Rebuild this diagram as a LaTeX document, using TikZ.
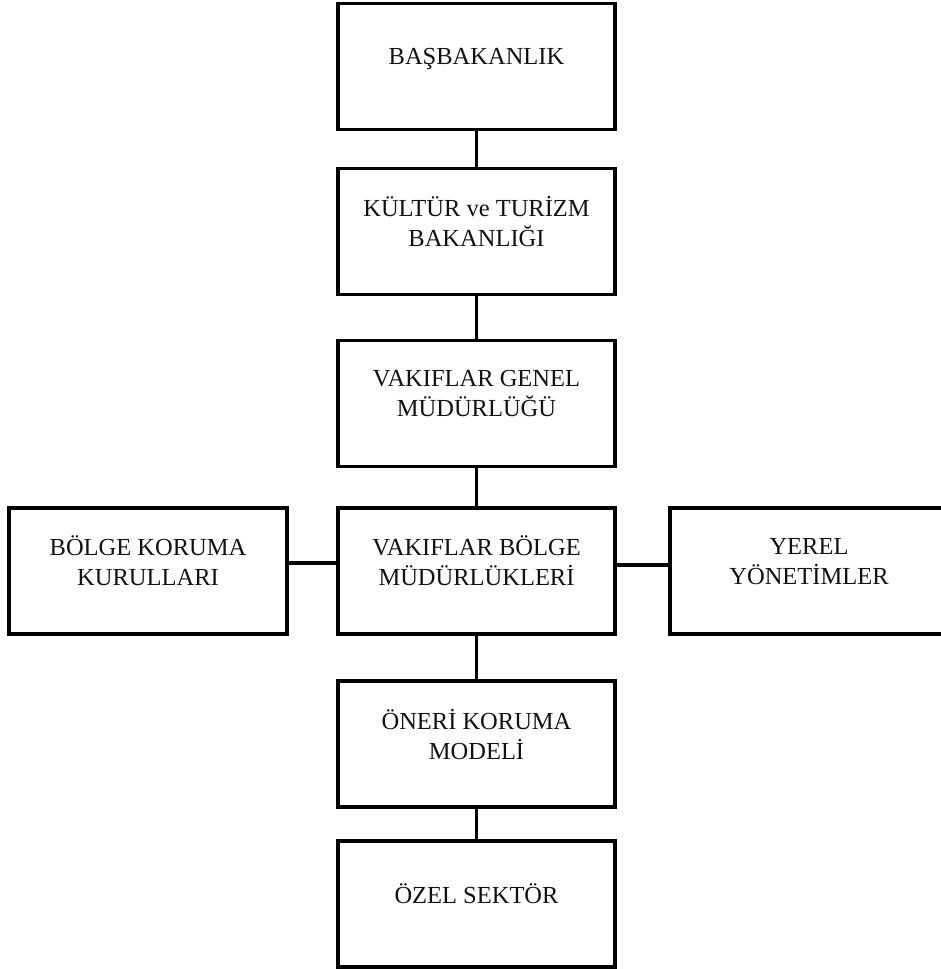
\documentclass[tikz,border=0pt]{standalone}
\usepackage{fontspec}
\setmainfont{Liberation Serif}
\usepackage{xcolor}
\definecolor{frameBlack}{HTML}{000000}
\definecolor{labelText}{HTML}{111111}
\usepackage{tikz}
\usetikzlibrary{
    positioning
}
\tikzset{
    % Base style for all boxes
    unit base/.style={
        font=\fontsize{24.5}{30}\selectfont,
        align=center,
        text=labelText,
        minimum width=277pt,
        minimum height=126pt,
        outer sep=0pt,
        inner sep=0pt,
    },
    % Plain rectangle with a thick black frame, text sits a bit high
    unit/.style={
        unit base,
        rectangle,
        draw=frameBlack,
        line width=3.2pt,
        execute at end node={\rule[-20pt]{0pt}{20pt}},
    },
    % Side boxes are a little wider
    side unit/.style={
        unit,
        minimum width=278pt,
    },
    % Straight connector, no tips
    link/.style={
        draw=frameBlack,
        line width=3.2pt,
    },
}

\begin{document}
\begin{tikzpicture}[x=1pt, y=-1pt]
    \useasboundingbox (0,0) rectangle (940,969);

    \node (pm_office) [unit] at (476.5,66.5) {BAŞBAKANLIK};
    \node (culture_min) [unit, below=39pt of pm_office] {KÜLTÜR ve TURİZM\\BAKANLIĞI};
    \node (general_dir) [unit, below=46pt of culture_min] {VAKIFLAR GENEL\\MÜDÜRLÜĞÜ};
    \node (regional_dir) [unit, below=41.5pt of general_dir] {VAKIFLAR BÖLGE\\MÜDÜRLÜKLERİ};
    \node (councils) [side unit, left=51pt of regional_dir] {BÖLGE KORUMA\\KURULLARI};
    \node (local_gov) [side unit, right=55pt of regional_dir] {YEREL\\YÖNETİMLER};
    \node (model) [unit, below=47pt of regional_dir] {ÖNERİ KORUMA\\MODELİ};
    \node (private) [unit, below=34pt of model] {ÖZEL SEKTÖR};

    \draw [link] (pm_office) -- (culture_min);
    \draw [link] (culture_min) -- (general_dir);
    \draw [link] (general_dir) -- (regional_dir);
    \draw [link] ([yshift=8pt]councils.east) -- ([yshift=8pt]regional_dir.west);
    \draw [link] ([yshift=6pt]regional_dir.east) -- ([yshift=6pt]local_gov.west);
    \draw [link] (regional_dir) -- (model);
    \draw [link] (model) -- (private);
\end{tikzpicture}
\end{document}
